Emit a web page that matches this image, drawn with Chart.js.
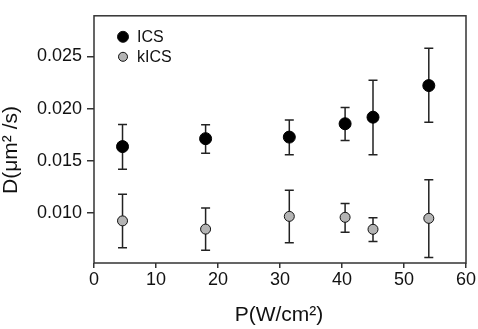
<!DOCTYPE html>
<html>
<head>
<meta charset="utf-8">
<script src="https://cdn.jsdelivr.net/npm/chart.js@4.4.1/dist/chart.umd.min.js"></script>
<style>
  html, body { margin: 0; padding: 0; background: #fff; }
  canvas { display: block; }
</style>
</head>
<body>
<canvas id="diffChart" width="478" height="329"></canvas>
<script>
// values
const power = [4.6, 18.0, 31.5, 40.5, 45.0, 54.0];

const icsD    = [0.01636, 0.01712, 0.01727, 0.01855, 0.01918, 0.02221];
const icsLow  = [0.01418, 0.01573, 0.01557, 0.01694, 0.01557, 0.01870];
const icsHigh = [0.01848, 0.01845, 0.01891, 0.02012, 0.02273, 0.02580];

const kicsD    = [0.00924, 0.00845, 0.00967, 0.00958, 0.00843, 0.00948];
const kicsLow  = [0.00667, 0.00643, 0.00715, 0.00815, 0.00727, 0.00573];
const kicsHigh = [0.01179, 0.01048, 0.01218, 0.01091, 0.00955, 0.01318];

const xTicks = [0, 10, 20, 30, 40, 50, 60];
const yTicks = [0.010, 0.015, 0.020, 0.025];

const FONT = "'Liberation Sans', Arial, sans-serif";
const INK = "#222";

function points(ys) {
    return power.map((x, i) => ({ x: x, y: ys[i] }));
}

// error bars, drawn under the markers
const errorBars = {
    id: "errorBars",
    beforeDatasetsDraw(chart) {
        const ctx = chart.ctx;
        const xs = chart.scales.x, ys = chart.scales.y;
        const sets = [[icsLow, icsHigh], [kicsLow, kicsHigh]];
        ctx.save();
        ctx.strokeStyle = INK;
        ctx.lineWidth = 1.5;
        sets.forEach(([lo, hi]) => {
            power.forEach((p, i) => {
                const px = xs.getPixelForValue(p);
                const y1 = ys.getPixelForValue(lo[i]);
                const y2 = ys.getPixelForValue(hi[i]);
                ctx.beginPath();
                ctx.moveTo(px, y1); ctx.lineTo(px, y2);
                ctx.moveTo(px - 4.5, y1); ctx.lineTo(px + 4.5, y1);
                ctx.moveTo(px - 4.5, y2); ctx.lineTo(px + 4.5, y2);
                ctx.stroke();
            });
        });
        ctx.restore();
    }
};

// frame, axis titles and legend
const decorations = {
    id: "decorations",
    afterDraw(chart) {
        const ctx = chart.ctx;
        const a = chart.chartArea;
        ctx.save();
        ctx.strokeStyle = "#333";
        ctx.lineWidth = 1.5;
        ctx.strokeRect(a.left, a.top, a.right - a.left, a.bottom - a.top);

        ctx.fillStyle = "#111";
        ctx.font = "21px " + FONT;
        ctx.textAlign = "center";
        ctx.textBaseline = "alphabetic";
        ctx.fillText("P(W/cm²)", (a.left + a.right) / 2 - 1, 321);

        ctx.save();
        ctx.translate(17, 150);
        ctx.rotate(-Math.PI / 2);
        ctx.fillText("D(μm² /s)", 0, 0);
        ctx.restore();

        // legend inside the plot, top left
        ctx.font = "16px " + FONT;
        ctx.textAlign = "left";
        ctx.textBaseline = "middle";
        chart.data.datasets.forEach((ds, i) => {
            const cy = a.top + 21 + i * 20;
            const cx = a.left + 29;
            ctx.beginPath();
            ctx.arc(cx, cy, i === 0 ? 5.5 : 4.5, 0, Math.PI * 2);
            ctx.fillStyle = ds.backgroundColor;
            ctx.fill();
            ctx.lineWidth = 1;
            ctx.strokeStyle = "#111";
            ctx.stroke();
            ctx.fillStyle = "#111";
            ctx.fillText(ds.label, a.left + 43, cy + 1);
        });
        ctx.restore();
    }
};

new Chart(document.getElementById("diffChart").getContext("2d"), {
    type: "scatter",
    data: {
        datasets: [
            {
                label: "ICS",
                data: points(icsD),
                backgroundColor: "#000",
                borderColor: "#000",
                borderWidth: 1,
                pointRadius: 6
            },
            {
                label: "kICS",
                data: points(kicsD),
                backgroundColor: "#b4b4b4",
                borderColor: "#111",
                borderWidth: 1,
                pointRadius: 5
            }
        ]
    },
    options: {
        responsive: false,
        animation: false,
        layout: { padding: { top: 3, right: 12, left: 0, bottom: 0 } },
        plugins: {
            legend: { display: false },
            tooltip: { enabled: false }
        },
        scales: {
            x: {
                type: "linear",
                min: 0,
                max: 60,
                afterBuildTicks: s => { s.ticks = xTicks.map(v => ({ value: v })); },
                afterFit: s => { s.height = 66; },
                border: { display: false },
                grid: { drawOnChartArea: false, tickLength: 5, color: "#333", lineWidth: 1.5 },
                ticks: {
                    padding: 1,
                    color: "#111",
                    font: { family: FONT, size: 18 },
                    maxRotation: 0
                }
            },
            y: {
                type: "linear",
                min: 0.0052,
                max: 0.0289,
                afterBuildTicks: s => { s.ticks = yTicks.map(v => ({ value: v })); },
                afterFit: s => { s.width = 94; },
                border: { display: false },
                grid: { drawOnChartArea: false, tickLength: 7, color: "#333", lineWidth: 1.5 },
                ticks: {
                    padding: 5,
                    color: "#111",
                    font: { family: FONT, size: 18 },
                    callback: v => v.toFixed(3)
                }
            }
        }
    },
    plugins: [errorBars, decorations]
});
</script>
</body>
</html>
